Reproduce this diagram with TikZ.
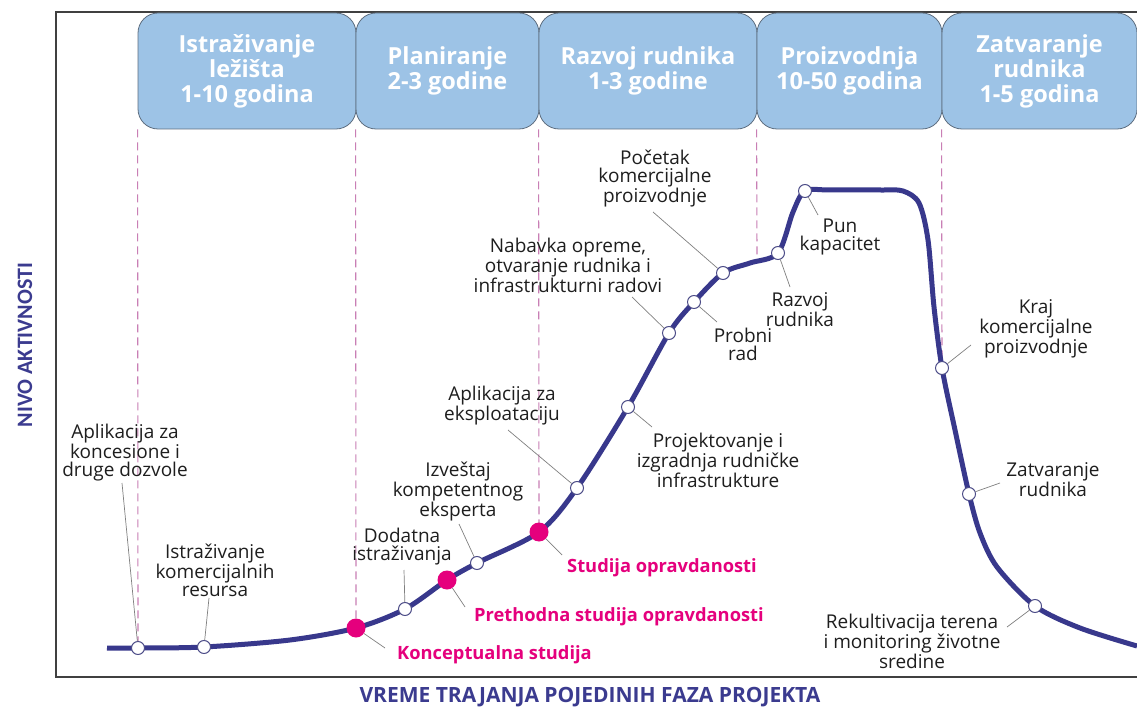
\documentclass[tikz,border=0pt]{standalone}
\usepackage{fontspec}
\setmainfont{Open Sans}
\newfontfamily\carlito{Carlito}
\definecolor{curveblue}{HTML}{38388C}
\definecolor{mpink}{HTML}{E5007D}
\definecolor{boxfill}{HTML}{9DC3E6}
\definecolor{boxline}{HTML}{5E6E80}
\definecolor{guidepink}{HTML}{C97FB5}
\definecolor{axisblue}{HTML}{3B3B8F}
\definecolor{leadgray}{HTML}{808080}
\definecolor{txt}{HTML}{1E1E1E}
\begin{document}
\begin{tikzpicture}[x=1pt,y=-1pt,
  phasebox/.style={draw=boxline, line width=0.8pt, fill=boxfill, rounded corners=20pt,
    minimum height=116pt, inner sep=0pt, align=center, text=white,
    font=\fontsize{23.5}{25}\selectfont\bfseries},
  guide/.style={draw=guidepink, line width=1.1pt, dash pattern=on 8pt off 5pt},
  curveline/.style={draw=curveblue, line width=5pt, line join=round},
  wmark/.style={circle, draw=curveblue!70!gray, line width=1pt, fill=white, minimum size=13pt, inner sep=0pt},
  pmark/.style={circle, fill=mpink, minimum size=19pt, inner sep=0pt},
  lbl/.style={align=center, text=txt, inner sep=0pt, font=\fontsize{19}{18}\selectfont},
  plbl/.style={anchor=west, text=mpink, inner sep=0pt, font=\fontsize{18.3}{18}\selectfont\bfseries},
  leader/.style={draw=leadgray, line width=0.7pt},
  frame/.style={draw=black!75, line width=1.2pt}]
\useasboundingbox (0,0) rectangle (1137,708);
\fill[white] (0,0) rectangle (1137,708);

% frame
\draw[frame] (1137,12) -- (56,12) -- (56,677) -- (1137,677);

% axis labels
\node[rotate=90, text=axisblue, font=\carlito\fontsize{22}{24}\selectfont\bfseries] (ylab) at (25,345) {NIVO AKTIVNOSTI};
\node[text=axisblue, font=\fontsize{21}{22}\selectfont\bfseries] (xlab) at (590,697) {VREME TRAJANJA POJEDINIH FAZA PROJEKTA};

% marker positions
\coordinate (cw1) at (138,648);
\coordinate (cw2) at (204,647);
\coordinate (ck1) at (356,628);
\coordinate (cw3) at (405,609);
\coordinate (ck2) at (447,580);
\coordinate (cw4) at (477,563);
\coordinate (ck3) at (539,532);
\coordinate (cw5) at (577,488);
\coordinate (cw6) at (628,407);
\coordinate (cw7) at (669,333);
\coordinate (cw8) at (694,302);
\coordinate (cw9) at (723,273);
\coordinate (cw10) at (778,253);
\coordinate (cw11) at (805,191);
\coordinate (cw12) at (942,368);
\coordinate (cw13) at (969,494);
\coordinate (cw14) at (1035,606);
\coordinate (g4) at (757,259);

% phase boxes
\node[phasebox, minimum width=218pt] (p1) at (247,71) {Istraživanje\\ležišta\\1-10 godina};
\node[phasebox, minimum width=183pt] (p2) at (447.5,71) {Planiranje\\2-3 godine};
\node[phasebox, minimum width=218pt] (p3) at (648,71) {Razvoj rudnika\\1-3 godine};
\node[phasebox, minimum width=185pt] (p4) at (849.5,71) {Proizvodnja\\10-50 godina};
\node[phasebox, minimum width=195pt] (p5) at (1039.5,71) {Zatvaranje\\rudnika\\1-5 godina};

% dashed phase guides
\draw[guide] (p1.south west) -- (cw1);
\draw[guide] (p2.south west) -- (ck1);
\draw[guide] (p3.south west) -- (ck3);
\draw[guide] (p4.south west) -- (g4);
\draw[guide] (p5.south west) -- (cw12);

% activity curve
\draw[curveline] plot[smooth, tension=0.5] coordinates {
 (107,648) (138,648) (204,647) (290,640) (356,628) (405,609) (447,580) (477,563)
 (539,532) (577,488) (628,407) (669,333) (694,302) (723,273) (750,263) (778,253)
 (793,212) (805,191) (830,190) (880,190) (903,191) (919,203) (928,240) (934,307)
 (942,368) (955,430) (969,494) (980,533) (997,567) (1035,606) (1080,628) (1137,646)};

% labels
\node[lbl] (l1) at (125,453) {Aplikacija za\\koncesione i\\druge dozvole};
\node[lbl] (l2) at (215,570) {Istraživanje\\komercijalnih\\resursa};
\node[lbl] (l3) at (402,547) {Dodatna\\istraživanja};
\node[lbl] (l4) at (458,492) {Izveštaj\\kompetentnog\\eksperta};
\node[lbl] (l5) at (502,406) {Aplikacija za\\eksploataciju};
\node[lbl] (l6) at (718,460) {Projektovanje i\\izgradnja rudničke\\infrastrukture};
\node[lbl] (l7) at (568,265) {Nabavka opreme,\\otvaranje rudnika i\\infrastrukturni radovi};
\node[lbl] (l8) at (743,344) {Probni\\rad};
\node[lbl] (l9) at (655,179) {Početak\\komercijalne\\proizvodnje};
\node[lbl] (l10) at (800,310) {Razvoj\\rudnika};
\node[lbl] (l11) at (840,237) {Pun\\kapacitet};
\node[lbl] (l12) at (1036,329) {Kraj\\komercijalne\\proizvodnje};
\node[lbl] (l13) at (1053,480) {Zatvaranje\\rudnika};
\node[lbl] (l14) at (912,641) {Rekultivacija terena\\i monitoring životne\\sredine};
\node[plbl] (pl1) at (397,655) {Konceptualna studija};
\node[plbl] (pl2) at (474,617) {Prethodna studija opravdanosti};
\node[plbl] (pl3) at (567,568) {Studija opravdanosti};

% leader ends near labels
\coordinate (e1) at (122,483);
\coordinate (e2) at (209,598);
\coordinate (e3) at (404,570);
\coordinate (e4) at (459,524);
\coordinate (e5) at (508,430);
\coordinate (e6) at (652,427);
\coordinate (e7) at (632,297);
\coordinate (e8) at (717,322);
\coordinate (e9) at (653,212);
\coordinate (e10) at (790,287);
\coordinate (e11) at (818,215);
\coordinate (e12) at (971,345);
\coordinate (e13) at (1000,483);
\coordinate (e14) at (1007,627);
\coordinate (e15) at (385,648);
\coordinate (e16) at (465,607);
\coordinate (e17) at (562,555);

% markers
\node[wmark] (w1) at (cw1) {};
\node[wmark] (w2) at (cw2) {};
\node[pmark] (k1) at (ck1) {};
\node[wmark] (w3) at (cw3) {};
\node[pmark] (k2) at (ck2) {};
\node[wmark] (w4) at (cw4) {};
\node[pmark] (k3) at (ck3) {};
\node[wmark] (w5) at (cw5) {};
\node[wmark] (w6) at (cw6) {};
\node[wmark] (w7) at (cw7) {};
\node[wmark] (w8) at (cw8) {};
\node[wmark] (w9) at (cw9) {};
\node[wmark] (w10) at (cw10) {};
\node[wmark] (w11) at (cw11) {};
\node[wmark] (w12) at (cw12) {};
\node[wmark] (w13) at (cw13) {};
\node[wmark] (w14) at (cw14) {};

% leaders
\draw[leader] (e1) -- (w1);
\draw[leader] (e2) -- (w2);
\draw[leader] (e3) -- (w3);
\draw[leader] (e4) -- (w4);
\draw[leader] (e5) -- (w5);
\draw[leader] (e6) -- (w6);
\draw[leader] (e7) -- (w7);
\draw[leader] (e8) -- (w8);
\draw[leader] (e9) -- (w9);
\draw[leader] (e10) -- (w10);
\draw[leader] (e11) -- (w11);
\draw[leader] (e12) -- (w12);
\draw[leader] (e13) -- (w13);
\draw[leader] (e14) -- (w14);
\draw[leader] (e15) -- (k1);
\draw[leader] (e16) -- (k2);
\draw[leader] (e17) -- (k3);
\end{tikzpicture}
\end{document}
